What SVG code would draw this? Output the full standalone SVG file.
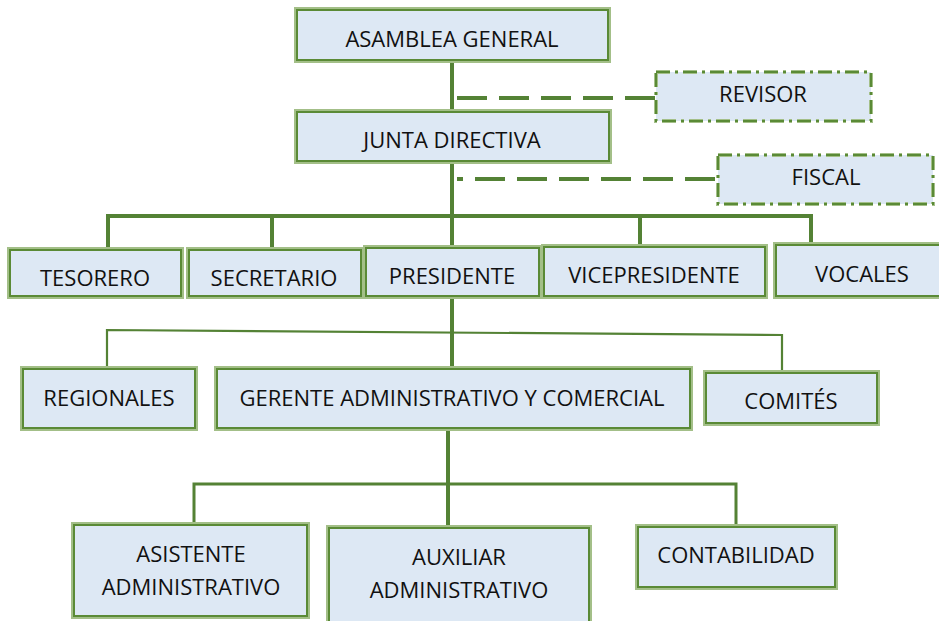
<svg xmlns="http://www.w3.org/2000/svg" width="939" height="621" viewBox="0 0 939 621">
<style>
.box{fill:#dde8f4;stroke:#a3bf88;stroke-width:4}
.in{fill:none;stroke:#5a8a36;stroke-width:2}
.dbox{fill:#dde8f4;stroke:#a3bf88;stroke-width:4;stroke-dasharray:14 5 3 5}
.din{fill:none;stroke:#5a8a36;stroke-width:2;stroke-dasharray:14 5 3 5}
.t{font-family:"Open Sans","Liberation Sans",sans-serif;font-size:22px;fill:#111;text-anchor:middle}
.c{fill:none;stroke:#548235;stroke-linecap:butt}
.thick{stroke-width:4}
.mid{stroke-width:3}
.thin{stroke-width:2.2}
.dash{stroke-width:4;stroke-dasharray:30 12}
</style>
<rect width="939" height="621" fill="#fff"/>
<g id="connectors">
<line class="c thick" x1="452" y1="61" x2="452" y2="111"/>
<line class="c dash" x1="457" y1="98" x2="655" y2="98"/>
<line class="c thick" x1="452" y1="162" x2="452" y2="246"/>
<line class="c dash" x1="457" y1="179" x2="717" y2="179" stroke-dashoffset="24"/>
<polyline class="c thick" points="108,249 108,216 811,216 811,245"/>
<line class="c thick" x1="272" y1="216" x2="272" y2="249"/>
<line class="c thick" x1="640" y1="216" x2="640" y2="246"/>
<line class="c thick" x1="452" y1="297" x2="452" y2="368"/>
<polyline class="c thin" points="107,368 107,330 782,335 782,372"/>
<line class="c thick" x1="448" y1="429" x2="448" y2="527"/>
<polyline class="c mid" points="194,525 194,484 736,484 736,527"/>
</g>
<g id="asamblea"><rect class="box" x="296" y="9" width="313" height="52"/><rect class="in" x="297" y="10" width="311" height="50"/><text class="t" x="452" y="47">ASAMBLEA GENERAL</text></g>
<g id="revisor"><rect class="dbox" x="656" y="72" width="215" height="49"/><rect class="din" x="656" y="72" width="215" height="49"/><text class="t" x="763" y="102">REVISOR</text></g>
<g id="junta"><rect class="box" x="296" y="111" width="314" height="51"/><rect class="in" x="297" y="112" width="312" height="49"/><text class="t" x="452" y="148">JUNTA DIRECTIVA</text></g>
<g id="fiscal"><rect class="dbox" x="718" y="155" width="215" height="49"/><rect class="din" x="718" y="155" width="215" height="49"/><text class="t" x="826" y="185">FISCAL</text></g>
<g id="tesorero"><rect class="box" x="9" y="249" width="173" height="48"/><rect class="in" x="10" y="250" width="171" height="46"/><text class="t" x="95" y="286">TESORERO</text></g>
<g id="secretario"><rect class="box" x="188" y="249" width="174" height="48"/><rect class="in" x="189" y="250" width="172" height="46"/><text class="t" x="274" y="286">SECRETARIO</text></g>
<g id="presidente"><rect class="box" x="365" y="247" width="175" height="50"/><rect class="in" x="366" y="248" width="173" height="48"/><text class="t" x="452" y="284">PRESIDENTE</text></g>
<g id="vicepresidente"><rect class="box" x="543" y="246" width="223" height="51"/><rect class="in" x="544" y="247" width="221" height="49"/><text class="t" x="654" y="283">VICEPRESIDENTE</text></g>
<g id="vocales"><rect class="box" x="775" y="244" width="175" height="53"/><rect class="in" x="776" y="245" width="173" height="51"/><text class="t" x="862" y="282">VOCALES</text></g>
<g id="regionales"><rect class="box" x="22" y="368" width="174" height="61"/><rect class="in" x="23" y="369" width="172" height="59"/><text class="t" x="109" y="406">REGIONALES</text></g>
<g id="gerente"><rect class="box" x="216" y="368" width="475" height="61"/><rect class="in" x="217" y="369" width="473" height="59"/><text class="t" x="452" y="406">GERENTE ADMINISTRATIVO Y COMERCIAL</text></g>
<g id="comites"><rect class="box" x="705" y="372" width="173" height="52"/><rect class="in" x="706" y="373" width="171" height="50"/><text class="t" x="791" y="409">COMITÉS</text></g>
<g id="asistente"><rect class="box" x="73" y="524" width="235" height="93"/><rect class="in" x="74" y="525" width="233" height="91"/><text class="t" x="191" y="562">ASISTENTE</text><text class="t" x="191" y="595">ADMINISTRATIVO</text></g>
<g id="auxiliar"><rect class="box" x="328" y="527" width="262" height="100"/><rect class="in" x="329" y="528" width="260" height="98"/><text class="t" x="459" y="565">AUXILIAR</text><text class="t" x="459" y="598">ADMINISTRATIVO</text></g>
<g id="contabilidad"><rect class="box" x="637" y="526" width="199" height="62"/><rect class="in" x="638" y="527" width="197" height="60"/><text class="t" x="736" y="563">CONTABILIDAD</text></g>
</svg>
